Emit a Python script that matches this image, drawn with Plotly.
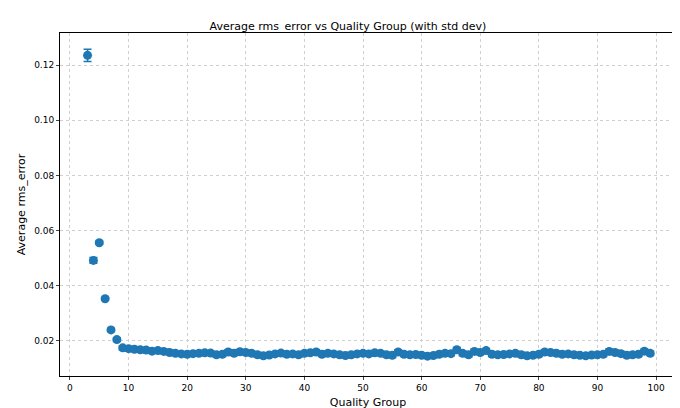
import plotly.graph_objects as go

groups = list(range(3, 100))
avg_error = [0.1235, 0.0492, 0.0556, 0.0353, 0.0240, 0.0205, 0.0175,
             0.0172, 0.0170, 0.0168, 0.0167, 0.0163, 0.0165, 0.0162, 0.0158, 0.0155, 0.0153,
             0.0152, 0.0154, 0.0155, 0.0157, 0.0156, 0.0150, 0.0152, 0.0160, 0.0155, 0.0161,
             0.0158, 0.0155, 0.0150, 0.0146, 0.0149, 0.0153, 0.0156, 0.0152, 0.0153, 0.0150,
             0.0155, 0.0157, 0.0160, 0.0152, 0.0155, 0.0153, 0.0150, 0.0147, 0.0150, 0.0153,
             0.0155, 0.0153, 0.0157, 0.0155, 0.0150, 0.0148, 0.0160, 0.0152, 0.0150, 0.0151,
             0.0148, 0.0145, 0.0147, 0.0152, 0.0155, 0.0154, 0.0168, 0.0155, 0.0150, 0.0162,
             0.0158, 0.0165, 0.0152, 0.0150, 0.0151, 0.0153, 0.0155, 0.0150, 0.0146, 0.0148,
             0.0152, 0.0160, 0.0158, 0.0155, 0.0152, 0.0153, 0.0150, 0.0148, 0.0146, 0.0149,
             0.0150, 0.0152, 0.0162, 0.0158, 0.0154, 0.0148, 0.0150, 0.0152, 0.0163, 0.0155,
             0.0157, 0.0160, 0.0158, 0.0150, 0.0147, 0.0148, 0.0150, 0.0152, 0.0155, 0.0163][:97]
std_error = [0.0022, 0.0010, 0.0006, 0.0005, 0.0006, 0.0007] + [0.0008] * 91

fig = go.Figure()
fig.add_trace(go.Scatter(
    x=groups, y=avg_error, mode='markers',
    marker=dict(color='#1f77b4', size=9),
    error_y=dict(type='data', array=std_error, color='#1f77b4', thickness=1.5, width=4),
))
fig.update_layout(
    width=680, height=408, template='simple_white',
    font=dict(family='DejaVu Sans', size=9, color='black'),
    title=dict(text='Average rms_error vs Quality Group (with std dev)', x=0.5, xanchor='center',
               y=0.965, yref='container', font=dict(size=11)),
    margin=dict(l=52, r=12, t=25, b=40, autoexpand=False),
    showlegend=False,
)
axis = dict(mirror=True, showline=True, linecolor='black', ticks='outside', ticklen=3,
            showgrid=True, gridcolor='#d0d0d0', griddash='dot', zeroline=False, automargin=False)
fig.update_xaxes(range=[-1.7, 103.4], dtick=10,
                 title=dict(text='Quality Group', standoff=6), **axis)
fig.update_yaxes(range=[0.0073, 0.1316], dtick=0.02, tickformat='.2f',
                 title=dict(text='Average rms_error', standoff=6), **axis)
fig.write_html("out.html")
